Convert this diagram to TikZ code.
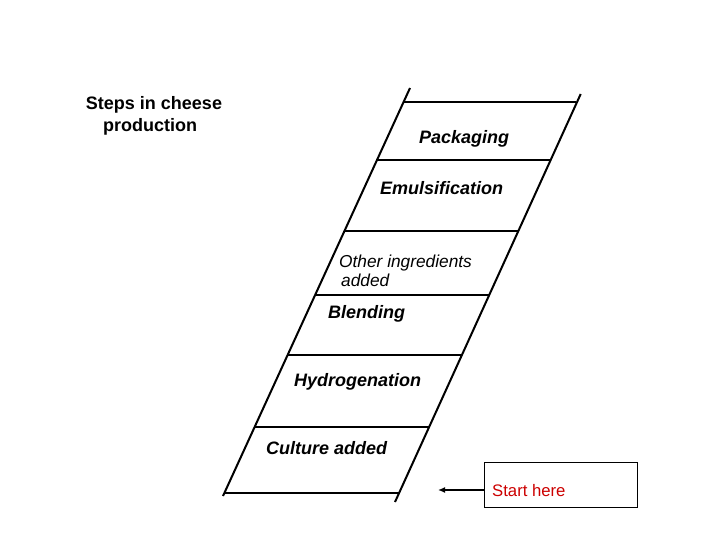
\documentclass[tikz,border=0pt]{standalone}
\usepackage{fontspec}
\setmainfont{Liberation Sans}
\usetikzlibrary{arrows.meta}
\definecolor{startred}{RGB}{204,0,0}
\begin{document}
\begin{tikzpicture}[x=1pt,y=-1pt,
  rail/.style={line width=2pt},
  rung/.style={line width=2pt},
  steplabel/.style={anchor=base west,inner sep=0pt,font=\fontsize{18}{20}\selectfont\bfseries\itshape},
  smalllabel/.style={anchor=base west,inner sep=0pt,align=left,font=\fontsize{17.3}{19}\selectfont\itshape},
  titlelabel/.style={anchor=base,inner sep=0pt,align=center,font=\fontsize{18}{22}\selectfont\bfseries},
  startbox/.style={draw,line width=0.8pt,minimum width=153pt,minimum height=45pt,inner sep=0pt}]
\useasboundingbox (0,0) rectangle (720,540);
% rails
\coordinate (LT) at (410,88);
\coordinate (LB) at (223,496);
\coordinate (RT) at (580.7,94);
\coordinate (RB) at (395,502);
\draw[rail] (LT) -- (LB);
\draw[rail] (RT) -- (RB);
% rungs
\coordinate (r1l) at (404,102);  \coordinate (r1m) at (490,102); \coordinate (r1r) at (576,102);
\draw[line width=1.6pt] (r1l) -- (r1m);
\draw[line width=2.4pt] (r1m) -- (r1r);
\coordinate (r2l) at (377,160);  \coordinate (r2r) at (550.7,160);
\draw[rung] (r2l) -- (r2r);
\coordinate (r3l) at (344.5,231);  \coordinate (r3r) at (518.4,231);
\draw[rung] (r3l) -- (r3r);
\coordinate (r4l) at (315.2,295);  \coordinate (r4r) at (489.3,295);
\draw[rung] (r4l) -- (r4r);
\coordinate (r5l) at (287.7,355);  \coordinate (r5r) at (462,355);
\draw[rung] (r5l) -- (r5r);
\coordinate (r6l) at (254.7,427);  \coordinate (r6r) at (429.2,427);
\draw[rung] (r6l) -- (r6r);
\coordinate (r7l) at (224,493);  \coordinate (r7r) at (398.5,493);
\draw[rung] (r7l) -- (r7r);
% labels
\node[titlelabel] (title) at (154,131.5) {Steps in cheese\\production\hspace*{8pt}};
\node[steplabel] (pack) at (419,143.5) {Packaging};
\node[steplabel] (emul) at (380,194.5) {Emulsification};
\node[smalllabel] (other) at (339,286) {Other ingredients\\\hspace{2pt}added};
\node[steplabel] (blend) at (328,318.5) {Blending};
\node[steplabel] (hydro) at (294,386.5) {Hydrogenation};
\node[steplabel] (cult) at (266,454.5) {Culture added};
% start box
\node[startbox] (start) at (560.5,484.5) {};
\node[anchor=base west,inner sep=0pt,text=startred,font=\fontsize{16.7}{19}\selectfont] (starttext) at (492,496) {Start here};
\coordinate (arrowend) at (438,490);
\draw[line width=1.8pt,-{Latex[length=7pt,width=6pt]}] (start.west |- arrowend) -- (arrowend);
\end{tikzpicture}
\end{document}
